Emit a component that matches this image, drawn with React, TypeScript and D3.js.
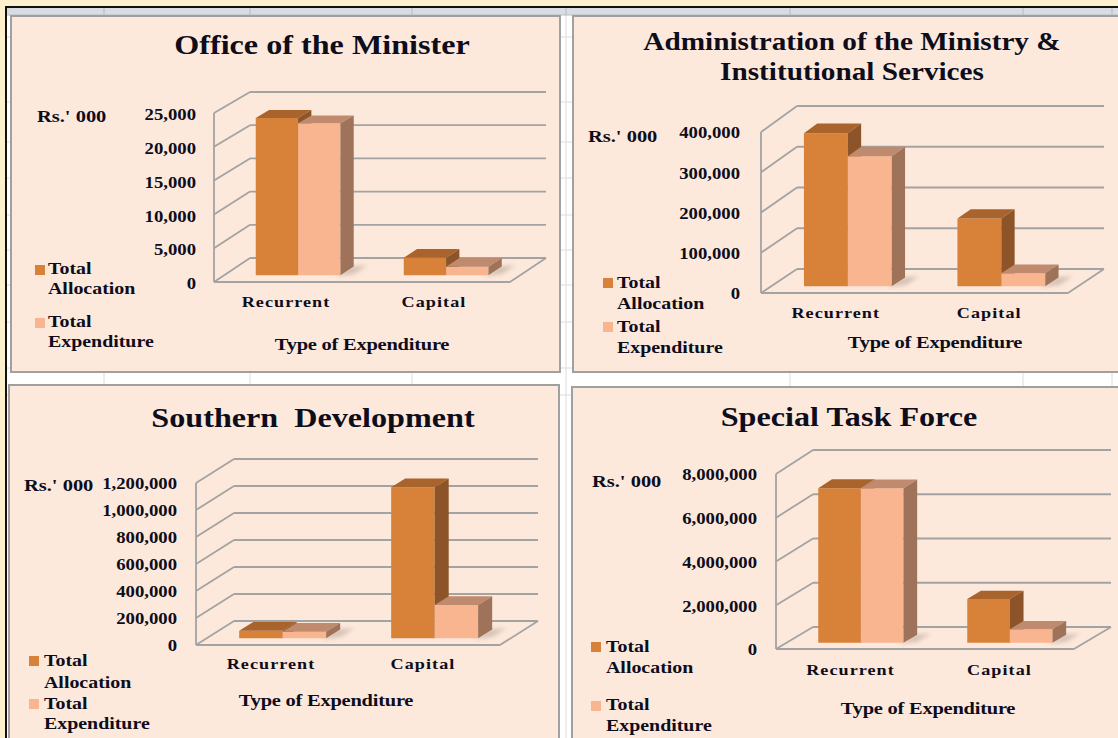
import React from "react";
import * as d3 from "d3";

// ---------- DATA ----------
const categories = ["Recurrent", "Capital"];
const seriesNames = ["Total Allocation", "Total Expenditure"];
const axisTitle = "Type of Expenditure";
const unitLabel = "Rs.' 000";

const titleMinister = ["Office of the Minister"];
const titleAdmin = ["Administration of the Ministry &", "Institutional Services"];
const titleSouthern = ["Southern  Development"];
const titleSTF = ["Special Task Force"];

const allocMinister = [23400, 2600];
const expMinister = [22600, 1250];
const allocAdmin = [379000, 168000];
const expAdmin = [322000, 32000];
const allocSouthern = [55000, 1118000];
const expSouthern = [48000, 246000];
const allocSTF = [7050000, 2000000];
const expSTF = [7040000, 620000];

const ticksMinister = [0, 5000, 10000, 15000, 20000, 25000];
const ticksAdmin = [0, 100000, 200000, 300000, 400000];
const ticksSouthern = [0, 200000, 400000, 600000, 800000, 1000000, 1200000];
const ticksSTF = [0, 2000000, 4000000, 6000000, 8000000];

// ---------- LAYOUT / STYLE ----------
const SX = 1.17;
const FONT = "'Liberation Serif', 'Times New Roman', serif";
const INK = "#0d0d1c";
const BG = "#fde9db";
const GRID = "#a3a3a3";
const COLORS = [
  { front: "#d88139", top: "#a9632c", side: "#8c5428" },
  { front: "#f9b58f", top: "#bf8a6e", side: "#9f735a" },
];

const LAYOUT = [
  {
    rect: [11, 16, 549, 356],
    fx: 214, fy0: 282, fyTop: 113, fxR: 510, bx: 250, by0: 258, byTop: 92,
    titleCx: 322, titleCy: [45], titleSize: 27.5,
    rsX: 37, rsCy: 116, tickX: 196, tickDy: 2,
    catCy: 302, catDx: -2, axisCx: 362, axisCy: 344,
    sqX: 35, sqY: [265, 318], legX: 48, legCy: [268, 288, 321, 341],
  },
  {
    rect: [573, 16, 560, 356],
    fx: 761, fy0: 293, fyTop: 132, fxR: 1068, bx: 797, by0: 269, byTop: 106,
    titleCx: 852, titleCy: [42, 72], titleSize: 25,
    rsX: 588, rsCy: 136, tickX: 740, tickDy: 1,
    catCy: 313, catDx: -2, axisCx: 935, axisCy: 342,
    sqX: 603, sqY: [278, 322], legX: 617, legCy: [282, 303, 326, 347],
  },
  {
    rect: [9, 385, 550, 370],
    fx: 196, fy0: 645, fyTop: 483, fxR: 500, bx: 234, by0: 621, byTop: 459,
    titleCx: 313, titleCy: [418], titleSize: 27.5,
    rsX: 24, rsCy: 485, tickX: 177, tickDy: 1,
    catCy: 664, catDx: -1, axisCx: 326, axisCy: 700,
    sqX: 29, sqY: [656, 699], legX: 44, legCy: [660, 682, 703, 723],
  },
  {
    rect: [572, 387, 560, 370],
    fx: 776, fy0: 649, fyTop: 474, fxR: 1074, bx: 813, by0: 627, byTop: 450,
    titleCx: 849, titleCy: [417], titleSize: 27.5,
    rsX: 592, rsCy: 481, tickX: 757, tickDy: 1,
    catCy: 670, catDx: 0, axisCx: 928, axisCy: 708,
    sqX: 591, sqY: [642, 701], legX: 606, legCy: [646, 667, 704, 725],
  },
];

const T0 = 0.28;
const T1 = 0.65;
const fmt = d3.format(",");

type TxtProps = {
  x: number; y: number; size: number; anchor?: string; ls?: number; children: any; pre?: boolean;
};
const Txt = ({ x, y, size, anchor = "start", ls = 0, children, pre }: TxtProps) => (
  <text
    transform={`translate(${x},${y + size * 0.33}) scale(${SX},1)`}
    fontSize={size}
    fontFamily={FONT}
    fontWeight="bold"
    fill={INK}
    textAnchor={anchor as any}
    letterSpacing={ls}
    style={pre ? { whiteSpace: "pre" } : undefined}
  >
    {children}
  </text>
);

function Panel({ cfg, title, alloc, exp, ticks }: any) {
  const yMax = ticks[ticks.length - 1];
  const yF = d3.scaleLinear().domain([0, yMax]).range([cfg.fy0, cfg.fyTop]);
  const yB = d3.scaleLinear().domain([0, yMax]).range([cfg.by0, cfg.byTop]);
  const W = cfg.fxR - cfg.fx;
  const dx = cfg.bx - cfg.fx;
  const P = (xf: number, v: number, t: number): [number, number] => [
    cfg.fx + xf * W + t * dx,
    yF(v) * (1 - t) + yB(v) * t,
  ];
  const pts = (arr: [number, number][]) => arr.map((p) => p.join(",")).join(" ");
  const line = (a: [number, number], b: [number, number], k: string) => (
    <line key={k} x1={a[0]} y1={a[1]} x2={b[0]} y2={b[1]} stroke={GRID} strokeWidth={1.8} />
  );

  const xCat = d3.scaleBand().domain(categories).range([0, 1]).paddingInner(0.428).paddingOuter(0.214);
  const xSer = d3.scaleBand().domain(seriesNames).range([0, xCat.bandwidth()]);
  const values = [alloc, exp];
  const [rx, ry, rw, rh] = cfg.rect;

  const bars: any[] = [];
  categories.forEach((c, ci) => {
    seriesNames.forEach((s, si) => {
      const v = values[si][ci];
      const x0 = (xCat(c) as number) + (xSer(s) as number);
      const x1 = x0 + xSer.bandwidth();
      const col = COLORS[si];
      bars.push(
        <g key={c + s}>
          <polygon points={pts([P(x0, 0, T0), P(x1, 0, T0), P(x1, v, T0), P(x0, v, T0)])} fill={col.front} />
          <polygon points={pts([P(x0, v, T0), P(x1, v, T0), P(x1, v, T1), P(x0, v, T1)])} fill={col.top} />
          <polygon points={pts([P(x1, 0, T0), P(x1, 0, T1), P(x1, v, T1), P(x1, v, T0)])} fill={col.side} />
        </g>
      );
    });
  });

  const shadows = categories.map((c) => {
    const x0 = xCat(c) as number;
    const x1 = x0 + xCat.bandwidth();
    return (
      <polygon
        key={"sh" + c}
        points={pts([P(x1 - 0.01, 0, T0 - 0.05), P(x1 + 0.04, 0, T0 + 0.05), P(x1 + 0.04, 0, T1 + 0.05), P(x1 - 0.01, 0, T1)])}
        fill="#8a7a70"
        opacity={0.35}
        filter="url(#blur)"
      />
    );
  });

  return (
    <g>
      <rect x={rx} y={ry} width={rw} height={rh} fill={BG} stroke="#a0a0a0" strokeWidth={2} />
      {title.map((t: string, i: number) => (
        <Txt key={t} x={cfg.titleCx} y={cfg.titleCy[i]} size={cfg.titleSize} anchor="middle" pre>
          {t}
        </Txt>
      ))}
      <Txt x={cfg.rsX} y={cfg.rsCy} size={17.5}>{unitLabel}</Txt>
      {ticks.map((v: number) => (
        <Txt key={"tk" + v} x={cfg.tickX} y={yF(v) + cfg.tickDy} size={16} anchor="end">
          {fmt(v)}
        </Txt>
      ))}
      {/* walls */}
      {ticks.map((v: number) => line(P(0, v, 1), P(1, v, 1), "bg" + v))}
      {ticks.map((v: number) => line(P(0, v, 0), P(0, v, 1), "lg" + v))}
      {line(P(0, 0, 0), P(0, yMax, 0), "fv")}
      {line(P(0, 0, 0), P(1, 0, 0), "ff")}
      {line(P(1, 0, 0), P(1, 0, 1), "fr")}
      {shadows}
      {bars}
      {categories.map((c) => (
        <Txt
          key={"cat" + c}
          x={P((xCat(c) as number) + xCat.bandwidth() / 2, 0, 0)[0] + cfg.catDx}
          y={cfg.catCy}
          size={15.5}
          anchor="middle"
          ls={0.9}
        >
          {c}
        </Txt>
      ))}
      <Txt x={cfg.axisCx} y={cfg.axisCy} size={17.5} anchor="middle" ls={-0.2}>
        {axisTitle}
      </Txt>
      {seriesNames.map((s, si) => {
        const [w1, w2] = s.split(" ");
        return (
          <g key={"lg" + s}>
            <rect x={cfg.sqX} y={cfg.sqY[si]} width={10} height={10} fill={COLORS[si].front} />
            <Txt x={cfg.legX} y={cfg.legCy[si * 2]} size={17}>{w1}</Txt>
            <Txt x={cfg.legX} y={cfg.legCy[si * 2 + 1]} size={17}>{w2}</Txt>
          </g>
        );
      })}
    </g>
  );
}

export default function App() {
  const panels = [
    { title: titleMinister, alloc: allocMinister, exp: expMinister, ticks: ticksMinister },
    { title: titleAdmin, alloc: allocAdmin, exp: expAdmin, ticks: ticksAdmin },
    { title: titleSouthern, alloc: allocSouthern, exp: expSouthern, ticks: ticksSouthern },
    { title: titleSTF, alloc: allocSTF, exp: expSTF, ticks: ticksSTF },
  ];
  const colLines = [104, 250, 412, 566, 790, 1023, 1112];
  const rowLines = [37, 102, 142, 178, 215, 250, 285, 322, 368, 395];
  return (
    <svg
      width={1118}
      height={738}
      style={{ position: "absolute", left: 0, top: 0, display: "block" }}
    >
      <defs>
        <filter id="blur" x="-50%" y="-50%" width="200%" height="200%">
          <feGaussianBlur stdDeviation="2" />
        </filter>
      </defs>
      <rect x={0} y={0} width={1118} height={738} fill="#ffffff" />
      {rowLines.map((y) => (
        <line key={"r" + y} x1={7} y1={y} x2={1118} y2={y} stroke="#dcdcdc" strokeWidth={1} />
      ))}
      {colLines.map((x) => (
        <line key={"c" + x} x1={x} y1={8} x2={x} y2={738} stroke="#dcdcdc" strokeWidth={1} />
      ))}
      <rect x={7} y={8} width={1111} height={7} fill="#d9dce2" />
      {colLines.map((x) => (
        <line key={"hc" + x} x1={x} y1={8} x2={x} y2={15} stroke="#c2c6cc" strokeWidth={1.5} />
      ))}
      <line x1={7} y1={15} x2={1118} y2={15} stroke="#b9bdc4" strokeWidth={1} />
      <rect x={0} y={0} width={1118} height={6} fill="#fdf1cd" />
      <rect x={0} y={0} width={5} height={738} fill="#fdf1cd" />
      <line x1={5} y1={7} x2={1118} y2={7} stroke="#111" strokeWidth={2} />
      <line x1={6} y1={6} x2={6} y2={738} stroke="#111" strokeWidth={2} />
      {panels.map((p, i) => (
        <Panel key={i} cfg={LAYOUT[i]} {...p} />
      ))}
    </svg>
  );
}
